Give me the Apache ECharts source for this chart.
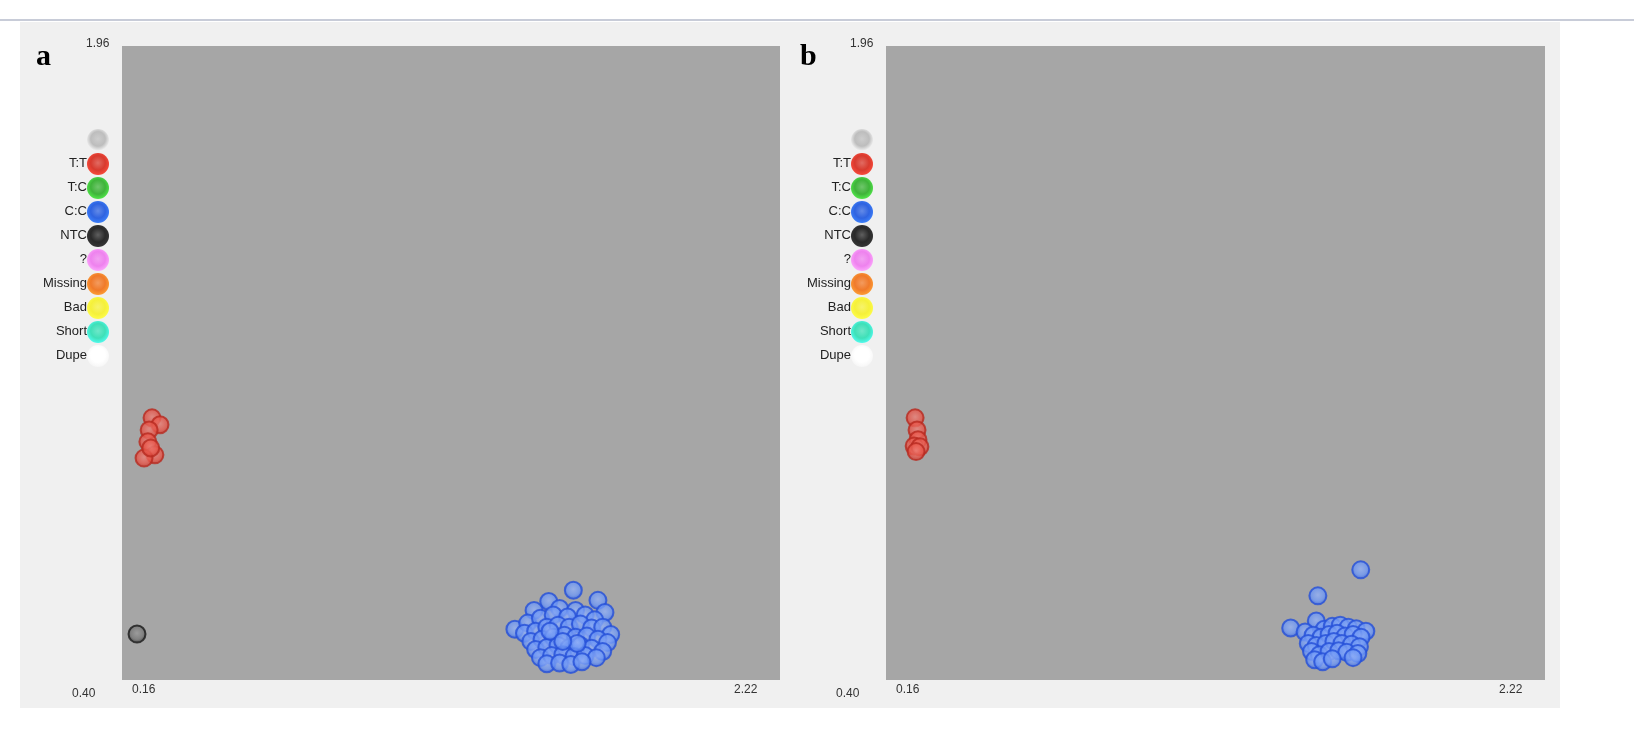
<!DOCTYPE html>
<html>
<head>
<meta charset="utf-8">
<script src="https://cdn.jsdelivr.net/npm/echarts@6/dist/echarts.min.js"></script>
<style>
    html, body { margin: 0; background: #ffffff; }
    #main { width: 1634px; height: 756px; }
</style>
</head>
<body>
<div id="main"></div>
<script>
    // 坐标范围
    var xMin = 0.16, xMax = 2.22, yMin = 0.40, yMax = 1.96;

    // 图 a
    var redA = [[0.254,1.045],[0.279,1.028],[0.245,1.015],[0.241,0.986],[0.263,0.954],[0.229,0.946],[0.250,0.971]];
    var blackA = [[0.207,0.513]];
    var blueA = [
        [1.573,0.621],[1.496,0.593],[1.650,0.596],[1.450,0.571],[1.530,0.576],[1.580,0.571],[1.672,0.566],
        [1.390,0.525],[1.430,0.540],[1.470,0.552],[1.510,0.560],[1.555,0.555],[1.610,0.560],[1.640,0.548],
        [1.420,0.515],[1.455,0.520],[1.490,0.530],[1.525,0.535],[1.560,0.530],[1.595,0.538],[1.630,0.528],[1.665,0.530],[1.690,0.512],
        [1.440,0.495],[1.475,0.500],[1.510,0.505],[1.545,0.510],[1.580,0.505],[1.615,0.508],[1.650,0.500],[1.680,0.492],
        [1.455,0.475],[1.490,0.480],[1.525,0.485],[1.560,0.480],[1.595,0.485],[1.630,0.478],[1.665,0.470],
        [1.470,0.455],[1.505,0.460],[1.540,0.462],[1.575,0.458],[1.610,0.460],[1.645,0.455],
        [1.490,0.440],[1.530,0.442],[1.565,0.438],[1.600,0.445],[1.500,0.520],[1.585,0.490],[1.540,0.495]
    ];

    // 图 b
    var redB = [[0.251,1.045],[0.257,1.015],[0.260,0.991],[0.248,0.976],[0.266,0.974],[0.254,0.962]];
    var blueB = [
        [1.644,0.671],[1.510,0.607],[1.425,0.528],
        [1.505,0.545],[1.530,0.525],[1.555,0.532],[1.580,0.535],[1.605,0.530],[1.630,0.526],[1.660,0.520],
        [1.470,0.518],[1.495,0.510],[1.520,0.505],[1.545,0.512],[1.570,0.515],[1.595,0.508],[1.620,0.512],[1.645,0.505],
        [1.480,0.490],[1.505,0.485],[1.535,0.490],[1.560,0.495],[1.585,0.490],[1.615,0.488],[1.640,0.482],
        [1.490,0.470],[1.515,0.462],[1.545,0.470],[1.575,0.472],[1.600,0.468],[1.635,0.465],
        [1.500,0.450],[1.525,0.445],[1.555,0.452],[1.620,0.455]
    ];

    // 图例
    var legendNames = ['', 'T:T', 'T:C', 'C:C', 'NTC', '?', 'Missing', 'Bad', 'Short', 'Dupe'];
    var legendColors = ['#bdbdbd', '#d83a2e', '#3fb33a', '#2f63e0', '#2a2a2a', '#ee82ee', '#f07a2a', '#f5f03a', '#3fe0b8', '#ffffff'];

    function ball(c, edge) {
        return {
            type: 'radial', x: 0.5, y: 0.45, r: 0.6,
            colorStops: [{offset: 0, color: echarts.color.lift(c, 0.25)}, {offset: 0.55, color: c}, {offset: 1, color: edge}]
        };
    }

    var panels = [{left: 122, width: 658, label: 'a', tx: 36}, {left: 886, width: 659, label: 'b', tx: 800}];
    var grids = [], xAxes = [], yAxes = [], series = [], graphics = [];

    panels.forEach(function (p, i) {
        grids.push({left: p.left, top: 46, width: p.width, height: 634, backgroundColor: '#a6a6a6', show: true, borderWidth: 0});
        xAxes.push({gridIndex: i, min: xMin, max: xMax, show: false});
        yAxes.push({gridIndex: i, min: yMin, max: yMax, show: false});

        graphics.push({type: 'text', left: p.tx, top: 42, style: {text: p.label, font: 'bold 30px "Liberation Serif"', fill: '#000'}});
        graphics.push({type: 'text', left: p.left - 36, top: 38, style: {text: '1.96', font: '12px Arial', fill: '#333'}});
        graphics.push({type: 'text', left: p.left - 50, top: 688, style: {text: '0.40', font: '12px Arial', fill: '#333'}});
        graphics.push({type: 'text', left: p.left + 10, top: 684, style: {text: '0.16', font: '12px Arial', fill: '#333'}});
        graphics.push({type: 'text', left: p.left + p.width - 46, top: 684, style: {text: '2.22', font: '12px Arial', fill: '#333'}});

        legendNames.forEach(function (n, k) {
            var cy = 140 + k * 24;
            graphics.push({type: 'circle', shape: {cx: p.left - 24, cy: cy, r: 11},
                style: {fill: ball(legendColors[k], k === 9 ? '#f4f4f4' : echarts.color.lift(legendColors[k], -0.35))}});
            graphics.push({type: 'text', right: 1634 - (p.left - 35), top: cy - 7,
                style: {text: n, font: '13px Arial', fill: '#222', textAlign: 'right'}});
        });
    });

    function scatter(idx, data, c, edge) {
        series.push({type: 'scatter', xAxisIndex: idx, yAxisIndex: idx, data: data, symbolSize: 17,
            itemStyle: {color: ball(c, edge), borderColor: edge, borderWidth: 2}});
    }
    scatter(0, redA, '#e8584c', '#b82a20');
    scatter(0, blackA, '#777777', '#1a1a1a');
    scatter(0, blueA, '#6f98f5', '#2550d8');
    scatter(1, redB, '#e8584c', '#b82a20');
    scatter(1, blueB, '#6f98f5', '#2550d8');

    // 背景和顶部线
    graphics.unshift({type: 'rect', shape: {x: 20, y: 22, width: 1540, height: 686}, style: {fill: '#f0f0f0'}, z: -10});
    graphics.unshift({type: 'rect', shape: {x: 0, y: 19, width: 1634, height: 2}, style: {fill: '#c8ccd8'}, z: -10});

    var myChart = echarts.init(document.getElementById('main'));
    myChart.setOption({
        animation: false,
        grid: grids, xAxis: xAxes, yAxis: yAxes, series: series, graphic: graphics
    });
</script>
</body>
</html>
